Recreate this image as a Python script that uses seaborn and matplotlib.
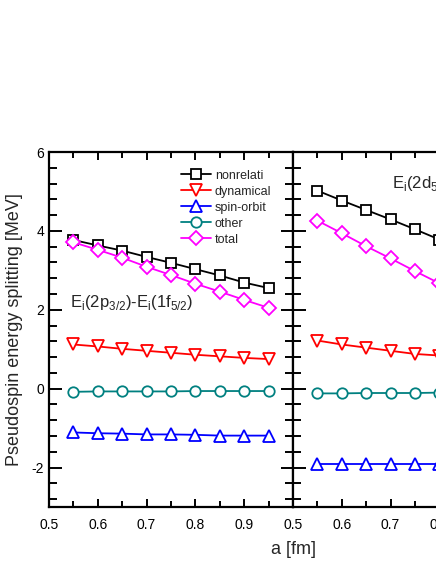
import numpy as np
import matplotlib
matplotlib.use("Agg")
import matplotlib.pyplot as plt
import matplotlib.ticker as mticker
import seaborn as sns

# a values [fm]
a_vals = [0.55, 0.60, 0.65, 0.70, 0.75, 0.80, 0.85, 0.90, 0.95]

# left panel: E(2p3/2) - E(1f5/2)
left_nonrel = [3.77, 3.63, 3.50, 3.34, 3.19, 3.03, 2.87, 2.69, 2.55]
left_dyn = [1.12, 1.07, 1.01, 0.96, 0.91, 0.86, 0.82, 0.78, 0.75]
left_so = [-1.11, -1.13, -1.14, -1.16, -1.16, -1.17, -1.19, -1.19, -1.19]
left_other = [-0.08, -0.07, -0.07, -0.07, -0.07, -0.06, -0.06, -0.06, -0.06]
left_total = [3.71, 3.52, 3.32, 3.09, 2.88, 2.66, 2.46, 2.25, 2.05]

# right panel: E(2d5/2) - E(1g7/2)
right_nonrel = [5.02, 4.77, 4.53, 4.29, 4.04, 3.78, 3.53, 3.28, 3.03]
right_dyn = [1.22, 1.12, 1.04, 0.96, 0.88, 0.84, 0.80, 0.76, 0.72]
right_so = [-1.90, -1.90, -1.90, -1.90, -1.90, -1.90, -1.90, -1.90, -1.90]
right_other = [-0.12, -0.12, -0.11, -0.11, -0.11, -0.10, -0.10, -0.10, -0.10]
right_total = [4.26, 3.94, 3.61, 3.30, 2.98, 2.67, 2.36, 2.05, 1.74]

names = ["nonrelati", "dynamical", "spin-orbit", "other", "total"]
colors = ["black", "red", "blue", "#008080", "#ff00ff"]
markers = ["s", "v", "^", "o", "D"]

sns.set_style("ticks")
plt.rcParams['font.family'] = ['Liberation Sans', 'DejaVu Sans']
plt.rcParams['mathtext.fontset'] = 'custom'
plt.rcParams['mathtext.rm'] = 'Liberation Sans'
plt.rcParams['axes.unicode_minus'] = False

fig = plt.figure(figsize=(4.36, 5.64), dpi=100)
W, H = 436.0, 564.0
ax1 = fig.add_axes([49 / W, 1 - 507 / H, 244 / W, 355 / H])
ax2 = fig.add_axes([293 / W, 1 - 507 / H, 244 / W, 355 / H])

panels = [
    (ax1, [left_nonrel, left_dyn, left_so, left_other, left_total]),
    (ax2, [right_nonrel, right_dyn, right_so, right_other, right_total]),
]

for ax, series in panels:
    for name, ys, c, m in zip(names, series, colors, markers):
        ms = 8.5 if m in ("v", "^") else 7.5
        sns.lineplot(x=a_vals, y=ys, ax=ax, color=c, marker=m, markersize=ms,
                     markerfacecolor="white", markeredgecolor=c, markeredgewidth=1.3,
                     linewidth=1.3, label=name, legend=False)
    ax.set_xlim(0.5, 1.0)
    ax.set_ylim(-3, 6)
    ax.xaxis.set_major_locator(mticker.MultipleLocator(0.1))
    ax.xaxis.set_minor_locator(mticker.MultipleLocator(0.05))
    ax.yaxis.set_major_locator(mticker.MultipleLocator(2))
    ax.yaxis.set_minor_locator(mticker.MultipleLocator(0.4))
    ax.xaxis.set_major_formatter(mticker.FormatStrFormatter('%.1f'))
    ax.tick_params(axis='both', which='both', direction='in', top=True, right=True,
                   width=1.4, labelsize=10, colors='black')
    ax.tick_params(axis='x', which='major', length=6, pad=8)
    ax.tick_params(axis='x', which='minor', length=4)
    ax.tick_params(axis='y', which='major', length=9)
    ax.tick_params(axis='y', which='minor', length=6)
    for sp in ax.spines.values():
        sp.set_linewidth(1.6)
        sp.set_color('black')
    ax.set_xlabel('')
    ax.set_ylabel('')

ax1.set_xticks([0.5, 0.6, 0.7, 0.8, 0.9])
ax2.set_yticklabels([])
ax1.set_ylabel('Pseudospin energy splitting [MeV]', fontsize=13, labelpad=6)

ax1.text(0.543, 2.18, r'E$_\mathregular{i}$(2p$_\mathregular{3/2}$)-E$_\mathregular{i}$(1f$_\mathregular{5/2}$)',
         fontsize=12, va='center', ha='left')
ax2.text(0.703, 5.2, r'E$_\mathregular{i}$(2d$_\mathregular{5/2}$)-E$_\mathregular{i}$(1g$_\mathregular{7/2}$)',
         fontsize=12, va='center', ha='left')

ax1.legend(loc='upper left', bbox_to_anchor=(0.505, 0.975), frameon=False,
           fontsize=9, handlelength=2.4, handletextpad=0.3, labelspacing=0.32,
           borderpad=0.2)

fig.text(293 / W, 1 - 549 / H, 'a [fm]', fontsize=13, ha='center', va='center')

fig.savefig('out.png', dpi=100)
